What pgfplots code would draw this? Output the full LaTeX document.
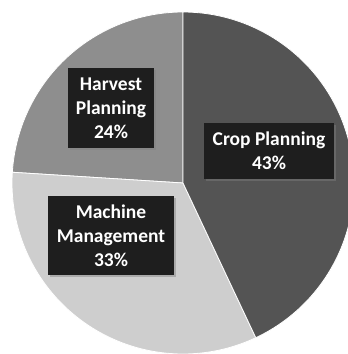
\documentclass[border=0pt]{standalone}
\usepackage{fontspec}
\setmainfont{Carlito}[BoldFont={Carlito Bold}]
\usepackage{pgfplots}
\pgfplotsset{compat=1.18}
\usetikzlibrary{shadows}
\definecolor{cropc}{RGB}{84,84,84}
\definecolor{harvc}{RGB}{142,142,142}
\definecolor{machc}{RGB}{206,206,206}
\definecolor{boxc}{RGB}{30,30,30}
% shares in percent (counter-clockwise from the top)
\def\pHarvest{24}
\def\pMachine{33}
\def\pCrop{43}
\begin{document}
\begin{tikzpicture}
\fill[white] (0,0) rectangle (348pt,354pt);
\pgfmathsetmacro{\aA}{90}
\pgfmathsetmacro{\aB}{90+3.6*\pHarvest}
\pgfmathsetmacro{\aC}{\aB+3.6*\pMachine}
\pgfmathsetmacro{\aD}{\aC+3.6*\pCrop}
\begin{axis}[
  width=348pt, height=354pt, scale only axis,
  xmin=0, xmax=348, ymin=0, ymax=354,
  hide axis, clip=true,
  samples=120,
]
\addplot[fill=harvc, draw=white, line width=0.8pt, domain=\aA:\aB] ({183+171*cos(x)},{171+171*sin(x)}) -- (axis cs:183,171) -- cycle;
\addplot[fill=machc, draw=white, line width=0.8pt, domain=\aB:\aC] ({183+171*cos(x)},{171+171*sin(x)}) -- (axis cs:183,171) -- cycle;
\addplot[fill=cropc, draw=white, line width=0.8pt, domain=\aC:\aD] ({183+171*cos(x)},{171+171*sin(x)}) -- (axis cs:183,171) -- cycle;
\tikzset{lbl/.style={fill=boxc,
  text=white, align=center, inner sep=0pt,
  font=\bfseries\fontsize{19.5}{24}\selectfont,
  drop shadow={shadow xshift=2pt, shadow yshift=-2pt, opacity=0.45}}}
\node[lbl, minimum width=86pt, minimum height=80pt] at (axis cs:111,246) {Harvest\\Planning\\24\%};
\node[lbl, minimum width=130pt, minimum height=56pt] at (axis cs:269,203) {Crop Planning\\43\%};
\node[lbl, minimum width=126pt, minimum height=79pt] at (axis cs:111,118) {Machine\\Management\\33\%};
\end{axis}
\end{tikzpicture}
\end{document}
